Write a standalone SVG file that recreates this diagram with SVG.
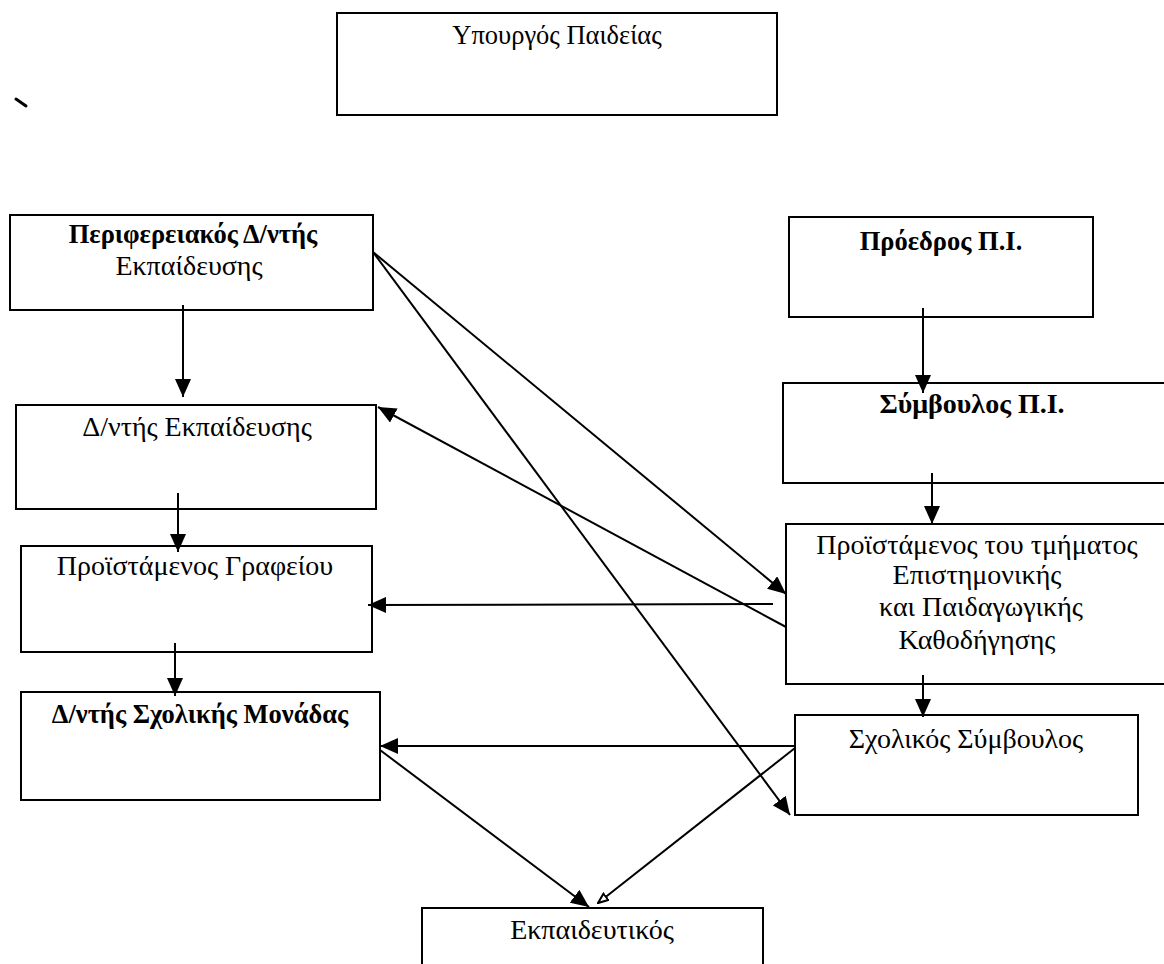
<svg xmlns="http://www.w3.org/2000/svg" width="1164" height="964" viewBox="0 0 1164 964">
<style>
.box{fill:#fff;stroke:#000;stroke-width:2}
.t{font-family:"Liberation Serif","Times New Roman",serif;font-size:28px;fill:#000;text-anchor:middle}
.b{font-weight:bold;font-size:26.5px}
.c{fill:none;stroke:#000;stroke-width:2}
</style>
<defs>
<marker id="ah" markerUnits="userSpaceOnUse" markerWidth="18" markerHeight="16" refX="18" refY="8" orient="auto"><path d="M0,0 L18,8 L0,16 z" fill="#000"/></marker>
<marker id="ah2" markerUnits="userSpaceOnUse" markerWidth="12" markerHeight="10" refX="11" refY="5" orient="auto"><path d="M1,1 L11,5 L1,9 z" fill="#fff" stroke="#000" stroke-width="2"/></marker>
</defs>
<rect width="1164" height="964" fill="#fff"/>
<path d="M16,99 L26,106" stroke="#000" stroke-width="3" stroke-linecap="round"/>
<g id="n-ypourgos"><rect class="box" x="337" y="13" width="440" height="102"/><text class="t" x="557" y="44" style="font-size:26.5px">Υπουργός Παιδείας</text></g>
<g id="n-perifereiakos"><rect class="box" x="10" y="215" width="363" height="95"/><text class="t b" x="193" y="243">Περιφερειακός Δ/ντής</text><text class="t" x="189" y="275">Εκπαίδευσης</text></g>
<g id="n-dntis-ekp"><rect class="box" x="16" y="405" width="360" height="104"/><text class="t" x="197" y="436">Δ/ντής Εκπαίδευσης</text></g>
<g id="n-proist-graf"><rect class="box" x="21" y="546" width="351" height="106"/><text class="t" x="195" y="575">Προϊστάμενος Γραφείου</text></g>
<g id="n-dntis-sx"><rect class="box" x="21" y="692" width="359" height="108"/><text class="t b" x="200" y="723">Δ/ντής Σχολικής Μονάδας</text></g>
<g id="n-proedros"><rect class="box" x="789" y="217" width="304" height="100"/><text class="t b" x="941" y="250">Πρόεδρος Π.Ι.</text></g>
<g id="n-symvoulos-pi"><rect class="box" x="783" y="383" width="390" height="100"/><text class="t b" x="972" y="413" style="font-size:28px">Σύμβουλος Π.Ι.</text></g>
<g id="n-proist-tm"><rect class="box" x="786" y="524" width="390" height="160"/><text class="t" x="977" y="554">Προϊστάμενος του τμήματος</text><text class="t" x="977" y="584">Επιστημονικής</text><text class="t" x="981" y="616">και Παιδαγωγικής</text><text class="t" x="977" y="649">Καθοδήγησης</text></g>
<g id="n-sx-symv"><rect class="box" x="795" y="715" width="343" height="100"/><text class="t" x="966" y="748">Σχολικός Σύμβουλος</text></g>
<g id="n-ekpaideutikos"><rect class="box" x="422" y="908" width="341" height="70"/><text class="t" x="592" y="939">Εκπαιδευτικός</text></g>
<g id="connectors">
<line class="c" x1="183" y1="305" x2="183" y2="397" marker-end="url(#ah)"/>
<line class="c" x1="178" y1="493" x2="178" y2="552" marker-end="url(#ah)"/>
<line class="c" x1="175" y1="643" x2="175" y2="696" marker-end="url(#ah)"/>
<line class="c" x1="923" y1="308" x2="923" y2="393" marker-end="url(#ah)"/>
<line class="c" x1="932" y1="473" x2="932" y2="524" marker-end="url(#ah)"/>
<line class="c" x1="923" y1="675" x2="923" y2="717" marker-end="url(#ah)"/>
<line class="c" x1="373" y1="252" x2="786" y2="594" marker-end="url(#ah)"/>
<line class="c" x1="373" y1="252" x2="790" y2="815" marker-end="url(#ah)"/>
<line class="c" x1="786" y1="627" x2="378" y2="407" marker-end="url(#ah)"/>
<line class="c" x1="773" y1="604" x2="368" y2="605" marker-end="url(#ah)"/>
<line class="c" x1="795" y1="746" x2="380" y2="746" marker-end="url(#ah)"/>
<line class="c" x1="380" y1="750" x2="589" y2="907" marker-end="url(#ah)"/>
<line class="c" x1="795" y1="748" x2="598" y2="903" marker-end="url(#ah2)"/>
</g>
</svg>
